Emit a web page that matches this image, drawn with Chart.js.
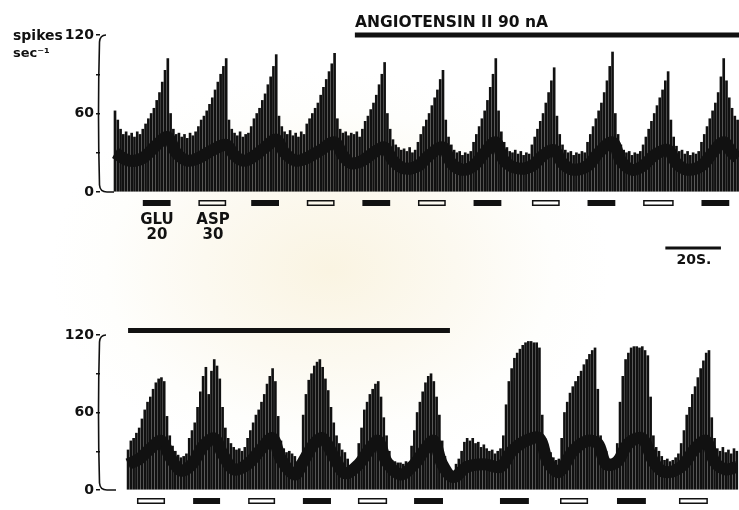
<!DOCTYPE html>
<html>
<head>
<meta charset="utf-8">
<script src="https://cdn.jsdelivr.net/npm/chart.js@4.4.1/dist/chart.umd.min.js"></script>
<style>
  body { margin: 0; background: #fff; }
  #page {
    position: relative; width: 739px; height: 510px; overflow: hidden;
    background: radial-gradient(ellipse 280px 200px at 330px 270px, #faf4e2 0%, #fcf9f0 45%, #fefefc 80%, #ffffff 100%);
    font-family: "DejaVu Sans", sans-serif; font-weight: bold; color: #111;
  }
  canvas { position: absolute; left: 0; }
  #topChart { top: 0; }
  #botChart { top: 290px; }
  .lbl { position: absolute; white-space: nowrap; line-height: 1; }
  .ctr { text-align: center; width: 60px; }
</style>
</head>
<body>
<div id="page">
  <canvas id="topChart" width="739" height="280"></canvas>
  <canvas id="botChart" width="739" height="220"></canvas>

  <div class="lbl" style="left:13px; top:28px; font-size:14px;">spikes</div>
  <div class="lbl" style="left:13px; top:46px; font-size:13px;">sec⁻¹</div>
  <div class="lbl" style="left:355px; top:15px; font-size:15.5px;">ANGIOTENSIN II 90 nA</div>
  <div class="lbl ctr" style="left:127px; top:212px; font-size:15px;">GLU<br>20</div>
  <div class="lbl ctr" style="left:183px; top:212px; font-size:15px;">ASP<br>30</div>
  <div class="lbl ctr" style="left:664px; top:252px; font-size:14px;">20S.</div>
</div>

<script>
// top record, 1 s bins from the start of the trace
const topRate = [
    62, 55, 48, 44, 46, 43, 45, 42, 46, 44,
    48, 52, 56, 60, 64, 70, 76, 84, 93, 102,
    60, 48, 44, 45, 42, 44, 41, 45, 43, 46,
    50, 55, 58, 62, 67, 72, 78, 84, 90, 96, 102,
    55, 48, 45, 43, 46, 42, 44, 45,
    50, 56, 60, 64, 70, 75, 82, 88, 96, 105,
    58, 50, 46, 44, 47, 43, 45, 42, 46, 44,
    52, 56, 60, 64, 68, 74, 80, 86, 92, 98, 106,
    56, 48, 45, 46, 43, 45, 44, 46, 42,
    48, 54, 58, 63, 68, 74, 82, 90, 99,
    60, 48, 40, 36, 34, 32, 33, 31, 34, 30, 32,
    38, 44, 50, 55, 60, 66, 72, 78, 86, 93,
    55, 42, 36, 32, 30, 31, 28, 30, 29, 31,
    38, 44, 50, 56, 62, 70, 80, 90, 102,
    62, 46, 38, 34, 31, 30, 32, 29, 31, 28, 30, 29,
    36, 42, 48, 54, 60, 68, 76, 85, 95,
    58, 44, 36, 32, 30, 31, 28, 30, 29, 31, 30,
    38, 44, 50, 56, 62, 68, 76, 85, 96, 107,
    60, 44, 36, 32, 30, 31, 28, 30, 29, 31,
    36, 42, 48, 54, 60, 66, 72, 78, 85, 92,
    55, 42, 35, 31, 32, 29, 31, 28, 30, 29, 31,
    38, 44, 50, 56, 62, 68, 76, 88, 102,
    85, 72, 64, 58, 55
];

// dense (dark) core of the top record
const topCoreT = [0, 5, 10, 15, 19, 22, 26, 30, 35, 40, 43, 46, 49, 54, 58, 61, 65, 69, 74, 79, 82, 85, 89, 93, 97, 100, 104,
    109, 113, 118, 121, 125, 129, 133, 137, 140, 145, 150, 154, 158, 161, 165, 170, 174, 179, 182, 186, 190, 194, 199,
    202, 206, 211, 215, 219, 222, 224];
const topCoreV = [30, 24, 26, 36, 42, 30, 24, 26, 32, 36, 28, 24, 26, 34, 40, 30, 24, 26, 32, 38, 28, 22, 24, 30, 34, 24, 18,
    20, 28, 34, 22, 17, 20, 30, 38, 24, 18, 20, 28, 32, 22, 17, 20, 30, 38, 24, 17, 20, 28, 32,
    22, 17, 20, 30, 38, 30, 26];

const topPulseStart = [10, 30, 49, 69, 89, 109, 129, 150, 170, 190, 211];
const topPulseEnd = [20, 40, 59, 79, 99, 119, 139, 160, 180, 201, 221];
const topPulseDrug = ['GLU', 'ASP', 'GLU', 'ASP', 'GLU', 'ASP', 'GLU', 'ASP', 'GLU', 'ASP', 'GLU'];
const topAngio = [86.3, 224.5];
const scaleBar = [198, 218];

// bottom record
const botRate = [
    31, 38, 40, 44, 48, 55, 62, 68, 72, 78, 83, 86, 87, 84,
    57, 42, 34, 30, 27, 25, 26, 28,
    40, 46, 52, 64, 76, 88, 95, 74, 92, 101, 96, 86,
    64, 48, 40, 36, 33, 31, 32, 30, 33,
    40, 46, 52, 58, 62, 68, 74, 82, 88, 94, 84,
    57, 38, 32, 29, 30, 28, 26, 22, 21,
    58, 74, 85, 90, 96, 99, 101, 95, 86, 77, 64, 52,
    42, 36, 31, 29, 24, 19, 18, 18,
    36, 48, 62, 68, 74, 78, 82, 84, 72, 56, 42,
    30, 23, 22, 21, 21, 20, 22, 21,
    34, 46, 60, 68, 76, 83, 88, 90, 84, 72, 58, 38,
    26, 18, 13, 14, 20, 24, 30, 37, 40, 38, 40, 36, 37, 33, 35, 32, 30, 31, 28, 30, 32,
    42, 66, 84, 94, 102, 106, 109, 112, 114, 115, 115, 114, 114, 110,
    58, 40, 32, 29, 25, 23, 24,
    40, 60, 68, 75, 80, 84, 88, 92, 97, 101, 105, 108, 110,
    78, 42, 34, 30, 24, 21, 22,
    36, 68, 88, 101, 106, 110, 111, 111, 110, 111, 108, 104,
    72, 42, 33, 30, 26, 23, 24, 22, 23, 25, 28,
    36, 46, 58, 64, 74, 80, 87, 94, 100, 106, 108,
    56, 40, 32, 30, 33, 29, 31, 28, 32, 30
];

const botCoreT = [0, 4, 8, 12, 15, 19, 23, 27, 31, 34, 38, 43, 48, 52, 55, 60, 63, 67, 70, 74, 78, 83, 87, 90, 93, 98,
    103, 107, 110, 113, 117, 122, 128, 134, 138, 143, 148, 151, 155, 160, 165, 169, 172, 176, 180, 185, 189, 193,
    199, 204, 208, 211, 215, 219];
const botCoreV = [20, 24, 32, 38, 26, 15, 20, 34, 40, 28, 16, 20, 32, 40, 24, 12, 22, 36, 40, 26, 13, 20, 32, 38, 22, 12,
    20, 32, 38, 20, 10, 18, 20, 18, 30, 38, 40, 22, 14, 30, 38, 36, 20, 22, 36, 40, 22, 14,
    18, 32, 38, 22, 16, 18];

const botPulseStart = [3.2, 23.4, 43.2, 62.9, 82.7, 102.9, 133.8, 155.4, 175.9, 198.2];
const botPulseEnd = [13.3, 33.1, 52.9, 73, 93.2, 113.3, 144.2, 165.5, 186.3, 208.6];
const botPulseDrug = ['ASP', 'GLU', 'ASP', 'GLU', 'ASP', 'GLU', 'GLU', 'ASP', 'GLU', 'ASP'];
const botAngio = [0, 115.8];

const INK = '#111';

// axis bracket, pulse markers, drug bar and time bar
const paper = {
    id: 'paper',
    afterDraw(chart, args, o) {
        const ctx = chart.ctx, xs = chart.scales.x, ys = chart.scales.y;
        const L = chart.chartArea.left;
        const top = ys.getPixelForValue(120), bot = ys.getPixelForValue(0);
        ctx.save();
        ctx.strokeStyle = INK;
        ctx.fillStyle = INK;
        ctx.lineWidth = 1.6;
        ctx.beginPath();
        ctx.moveTo(L + 6, top);
        ctx.quadraticCurveTo(L, top, L - 0.5, top + 7);
        ctx.quadraticCurveTo(L - 2.5, (top + bot) / 2, L - 0.5, bot - 7);
        ctx.quadraticCurveTo(L, bot, L + 7, bot);
        ctx.lineTo(L + o.foot, bot);
        ctx.stroke();

        o.start.forEach((s, i) => {
            const a = xs.getPixelForValue(s), b = xs.getPixelForValue(o.end[i]);
            if (o.drug[i] === 'GLU') {
                ctx.fillRect(a, bot + 8, b - a, 6);
            } else {
                ctx.lineWidth = 1.5;
                ctx.strokeRect(a + 0.75, bot + 8.75, b - a - 1.5, 4.5);
            }
        });

        ctx.lineWidth = 5;
        ctx.beginPath();
        ctx.moveTo(xs.getPixelForValue(o.angio[0]), top + o.angioDy);
        ctx.lineTo(xs.getPixelForValue(o.angio[1]), top + o.angioDy);
        ctx.stroke();

        if (o.bar) {
            ctx.lineWidth = 3;
            ctx.beginPath();
            ctx.moveTo(xs.getPixelForValue(o.bar[0]), bot + 56);
            ctx.lineTo(xs.getPixelForValue(o.bar[1]), bot + 56);
            ctx.stroke();
        }
        ctx.restore();
    }
};

function makeRecord(id, rate, coreT, coreV, xmin, xmax, pad, paperOpts) {
    return new Chart(document.getElementById(id), {
        data: {
            datasets: [
                {
                    type: 'line',
                    data: coreT.map((t, i) => ({ x: t, y: coreV[i] })),
                    borderColor: INK,
                    borderWidth: 12,
                    tension: 0.35,
                    pointRadius: 0,
                    order: 0
                },
                {
                    type: 'bar',
                    data: rate.map((v, i) => ({ x: i, y: v })),
                    backgroundColor: INK,
                    barThickness: 2,
                    order: 1
                }
            ]
        },
        options: {
            responsive: false,
            animation: false,
            layout: { padding: { top: pad[0], bottom: pad[1], left: 0, right: 0 } },
            plugins: { legend: { display: false }, tooltip: { enabled: false }, paper: paperOpts },
            scales: {
                x: { type: 'linear', min: xmin, max: xmax, display: false, offset: false },
                y: {
                    min: 0, max: 120,
                    afterFit(s) { s.width = 100; },
                    border: { display: false },
                    grid: { drawOnChartArea: false, drawTicks: true, tickLength: 4, color: INK, lineWidth: 1.5 },
                    ticks: {
                        stepSize: 30, padding: 2, color: INK,
                        font: { family: 'DejaVu Sans', weight: 'bold', size: 14 },
                        callback: v => (v % 60 === 0 ? v : '')
                    }
                }
            }
        },
        plugins: [paper]
    });
}

makeRecord('topChart', topRate, topCoreT, topCoreV, -5.4, 224.5, [35, 88], {
    foot: 14, start: topPulseStart, end: topPulseEnd, drug: topPulseDrug,
    angio: topAngio, angioDy: 0, bar: scaleBar
});

makeRecord('botChart', botRate, botCoreT, botCoreV, -10.1, 219.8, [45, 20], {
    foot: 16, start: botPulseStart, end: botPulseEnd, drug: botPulseDrug,
    angio: botAngio, angioDy: -4.5, bar: null
});
</script>
</body>
</html>
